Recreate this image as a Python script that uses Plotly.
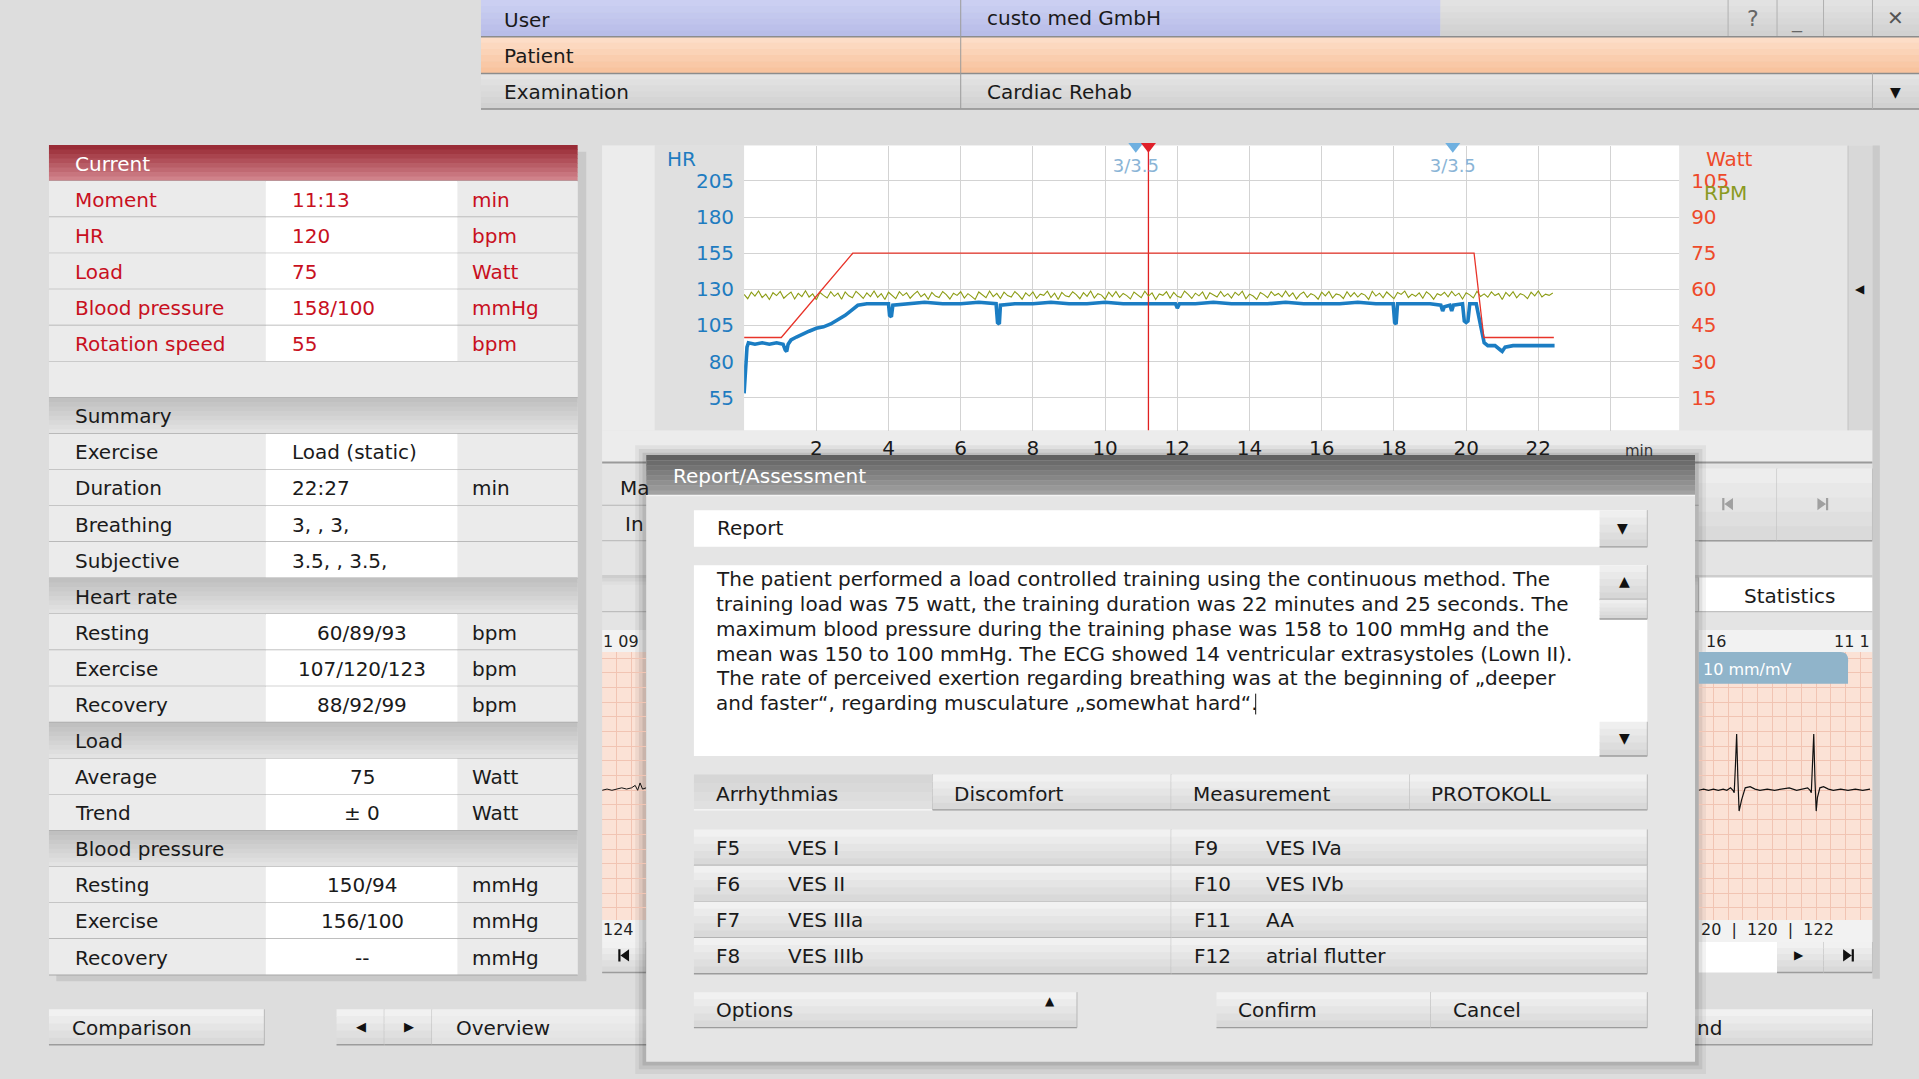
import plotly.graph_objects as go

# ---------------- data ----------------
hr_t = [0.00, 0.04, 0.08, 0.12, 0.30, 0.50, 0.70, 0.90, 1.08, 1.14,
        1.18, 1.22, 1.30, 1.45, 1.60, 1.80, 2.00, 2.20, 2.40, 2.60,
        2.80, 3.00, 3.15, 3.40, 3.70, 4.00, 4.03, 4.08, 4.12, 4.50,
        5.00, 5.50, 6.00, 6.50, 6.98, 7.02, 7.07, 7.10, 7.50, 8.00,
        8.50, 9.00, 9.50, 10.00, 10.50, 11.00, 11.50, 11.95, 12.00, 12.06,
        12.50, 13.00, 13.50, 14.00, 14.50, 15.00, 15.50, 16.00, 16.50, 17.00,
        17.50, 17.98, 18.02, 18.06, 18.10, 18.50, 19.00, 19.30, 19.35, 19.40,
        19.55, 19.60, 19.65, 19.90, 19.95, 20.00, 20.05, 20.10, 20.28, 20.40,
        20.50, 20.60, 20.80, 20.95, 21.00, 21.08, 21.30, 21.60, 22.00, 22.45]
hr_bpm = [58, 75, 90, 93, 92, 93, 92, 93, 92, 88,
          87, 92, 95, 97, 99, 101, 103, 104, 106, 109,
          112, 116, 119, 120, 120, 120, 112, 111, 119, 120,
          121, 120, 120, 121, 120, 107, 106, 119, 120, 120,
          121, 120, 120, 121, 120, 120, 120, 120, 117, 120,
          120, 121, 120, 120, 120, 121, 120, 120, 120, 121,
          120, 120, 107, 106, 120, 120, 120, 119, 115, 118,
          119, 115, 119, 120, 108, 107, 108, 120, 120, 105,
          93, 91, 91, 88, 87, 90, 91, 91, 91, 91]

load_t = [0.0, 1.03, 3.01, 20.22, 20.49, 22.43]
load_watt = [40, 40, 75, 75, 40, 40]

rpm_step = 0.1
rpm_vals = [57.9, 56.1, 58.8, 57.2, 59.3, 56.6, 58.0, 55.8, 58.6, 57.4, 59.1, 56.3, 57.7, 58.9, 56.0,
            58.3, 57.0, 59.4, 56.8, 58.1, 55.7, 58.7, 57.5, 56.4, 59.0, 57.1, 58.4, 55.9, 58.9, 57.3,
            56.5, 59.2, 57.8, 56.2, 58.5, 57.0, 59.3, 56.7, 58.2, 55.8, 58.8, 57.6, 56.1, 59.0, 57.4,
            58.6, 56.3, 57.9, 59.2, 56.9, 58.1, 55.9, 58.7, 57.2, 56.6, 59.1, 57.8, 56.0, 58.4, 57.5,
            59.0, 56.4, 58.2, 57.1, 55.8, 58.9, 57.6, 56.5, 59.3, 57.0, 58.3, 56.2, 58.8, 57.4, 56.8,
            59.1, 57.7, 55.9, 58.5, 57.2, 58.9, 56.3, 58.0, 57.5, 59.2, 56.6, 58.4, 55.8, 58.7, 57.3,
            56.9, 59.0, 57.8, 56.1, 58.6, 57.1, 59.3, 56.4, 58.2, 57.6, 55.9, 58.8, 57.0, 59.1, 56.7,
            58.3, 57.4, 56.0, 58.9, 57.7, 56.5, 59.2, 57.2, 58.5, 55.8, 58.1, 57.5, 59.0, 56.3, 58.7,
            57.1, 56.6, 59.3, 57.9, 56.2, 58.4, 57.3, 58.9, 55.9, 58.6, 57.6, 56.8, 59.1, 57.0, 58.2,
            56.4, 58.8, 57.5, 59.2, 56.1, 58.0, 57.2, 55.8, 58.7, 57.8, 56.5, 59.0, 57.4, 58.3, 56.9,
            59.3, 57.1, 58.5, 56.0, 57.9, 58.9, 56.7, 58.2, 57.5, 55.9, 58.8, 57.3, 59.1, 56.4, 58.1,
            57.7, 56.2, 59.0, 57.0, 58.6, 56.8, 58.3, 57.6, 55.8, 59.2, 57.2, 58.4, 56.5, 58.9, 57.4,
            56.1, 58.7, 57.9, 59.3, 56.6, 58.0, 57.1, 58.5, 56.3, 59.0, 57.8, 55.9, 58.2, 57.5, 58.8,
            56.9, 59.1, 57.3, 58.4, 56.0, 58.6, 57.7, 56.4, 59.2, 57.0, 58.1, 56.7, 58.9, 57.4, 58.3,
            55.8, 58.7, 57.2, 59.0, 56.5, 58.2, 57.6, 56.1, 58.8, 57.3, 59.3, 56.8, 58.0, 57.5, 58.5]
rpm_t = [i * rpm_step for i in range(len(rpm_vals))]

event_t = [10.85, 19.63]
event_text = ["3/3.5", "3/3.5"]
cursor_t = 11.2

hr_ticks = [55, 80, 105, 130, 155, 180, 205]
watt_ticks = [15, 30, 45, 60, 75, 90, 105]
min_ticks = [2, 4, 6, 8, 10, 12, 14, 16, 18, 20, 22, 24]
min_labels = ["2", "4", "6", "8", "10", "12", "14", "16", "18", "20", "22", ""]

ecg_t = [0, 4, 8, 12, 16, 20, 23, 26, 28, 29, 30, 31, 32, 33, 35, 38, 42, 46, 50, 56, 62,
         68, 74, 80, 86, 89, 91, 92, 93, 94, 95, 96, 97, 99, 102, 106, 110, 116, 122, 128, 134, 140]
ecg_v = [0, 1, 0, 1, 0, 1, 0, 2, 0, -2, 20, 46, 10, -17, -8, 2, 3, 1, 0, 1, 0,
         1, 2, 0, 1, 2, 0, -2, 22, 46, 8, -17, -6, 2, 3, 1, 0, 1, 0, 1, 0, 1]
ecg_left_t = [0, 4, 8, 12, 16, 20, 24, 27, 29, 31, 33, 36]
ecg_left_v = [0, 1, 0, 1, 2, 1, 2, 4, 0, 6, 1, 2]

current_labels = ["Moment", "HR", "Load", "Blood pressure", "Rotation speed"]
current_values = ["11:13", "120", "75", "158/100", "55"]
current_units = ["min", "bpm", "Watt", "mmHg", "bpm"]
summary_labels = ["Exercise", "Duration", "Breathing", "Subjective"]
summary_values = ["Load (static)", "22:27", "3, , 3,", "3.5, , 3.5,"]
summary_units = ["", "min", "", ""]
hr_labels = ["Resting", "Exercise", "Recovery"]
hr_values = ["60/89/93", "107/120/123", "88/92/99"]
hr_units = ["bpm", "bpm", "bpm"]
load_labels = ["Average", "Trend"]
load_values = ["75", "± 0"]
load_units = ["Watt", "Watt"]
bp_labels = ["Resting", "Exercise", "Recovery"]
bp_values = ["150/94", "156/100", "--"]
bp_units = ["mmHg", "mmHg", "mmHg"]

report_lines = [
    "The patient performed a load controlled training using the continuous method. The",
    "training load was 75 watt, the training duration was 22 minutes and 25 seconds. The",
    "maximum blood pressure during the training phase was 158 to 100 mmHg and the",
    "mean was 150 to 100 mmHg. The ECG showed 14 ventricular extrasystoles (Lown II).",
    "The rate of perceived exertion regarding breathing was at the beginning of „deeper",
    "and faster“, regarding musculature „somewhat hard“.",
]
tab_names = ["Arrhythmias", "Discomfort", "Measurement", "PROTOKOLL"]
fkeys_left = ["F5", "F6", "F7", "F8"]
fnames_left = ["VES I", "VES II", "VES IIIa", "VES IIIb"]
fkeys_right = ["F9", "F10", "F11", "F12"]
fnames_right = ["VES IVa", "VES IVb", "AA", "atrial flutter"]

# ---------------- helpers (layout units of the 1568x882 screen) ----------------
W, H = 1919, 1079
RW, RH = 1568.0, 882.0
FONT = "DejaVu Sans"
FS = 20

shapes = []
annots = []


def px(x):
    return x / RW


def py(y):
    return 1 - y / RH


def box(x0, y0, x1, y1, fill, layer="below"):
    shapes.append(dict(type="rect", xref="paper", yref="paper", x0=px(x0), x1=px(x1),
                       y0=py(y1), y1=py(y0), fillcolor=fill, line=dict(width=0), layer=layer))


def hline(x0, x1, y, color, w=1.2):
    shapes.append(dict(type="line", xref="paper", yref="paper", x0=px(x0), x1=px(x1),
                       y0=py(y), y1=py(y), line=dict(color=color, width=w), layer="below"))


def vline(x, y0, y1, color, w=1.2):
    shapes.append(dict(type="line", xref="paper", yref="paper", x0=px(x), x1=px(x),
                       y0=py(y0), y1=py(y1), line=dict(color=color, width=w), layer="below"))


def mix(c0, c1, t):
    a = [int(c0[i:i + 2], 16) for i in (1, 3, 5)]
    b = [int(c1[i:i + 2], 16) for i in (1, 3, 5)]
    return "#" + "".join("%02x" % round(a[k] + (b[k] - a[k]) * t) for k in range(3))


def grad(x0, y0, x1, y1, c0, c1, n=6):
    for k in range(n):
        ya = y0 + (y1 - y0) * k / n
        yb = y0 + (y1 - y0) * (k + 1) / n
        box(x0, ya, x1, min(yb + 0.4, y1), mix(c0, c1, (k + 0.5) / n))


def text(x, y, s, size=FS, color="#1a1a1a", anchor="left"):
    annots.append(dict(xref="paper", yref="paper", x=px(x), y=py(y), text=s, showarrow=False,
                       xanchor=anchor, yanchor="middle", font=dict(family=FONT, size=size, color=color)))


def button(x0, y0, x1, y1, c0="#f4f4f4", c1="#d6d6d6"):
    grad(x0, y0, x1, y1, c0, c1, 5)
    hline(x0, x1, y1, "#9c9c9c", 1.4)
    vline(x1, y0, y1, "#b8b8b8", 1)


def skip_icon(xc, yc, d, color, s=5.0):
    # d = -1: bar + left triangle, d = +1: right triangle + bar
    tip = xc + d * s * 0.6
    back = xc - d * s * 0.8
    bar0, bar1 = tip, tip + d * 1.8
    path = "M %f,%f L %f,%f L %f,%f Z M %f,%f L %f,%f L %f,%f L %f,%f Z" % (
        px(tip), py(yc), px(back), py(yc - s), px(back), py(yc + s),
        px(bar0), py(yc - s), px(bar1), py(yc - s), px(bar1), py(yc + s), px(bar0), py(yc + s))
    shapes.append(dict(type="path", xref="paper", yref="paper", path=path, fillcolor=color,
                       line=dict(width=0), layer="below"))


# ---------------- top header ----------------
grad(393, 0, 785, 30, "#cdd1f3", "#b6bbe7")
grad(785, 0, 1177, 30, "#cdd1f3", "#b6bbe7")
grad(1177, 0, 1568, 30, "#e4e4e4", "#cfcfcf")
for xs in (1412, 1452, 1490, 1530):
    vline(xs, 0, 30, "#b0b0b0", 1)
grad(393, 30, 1568, 60, "#fde0cb", "#f8c09a")
grad(393, 60, 1568, 89, "#e6e6e6", "#cfcfcf")
for yy in (30, 60, 89):
    hline(393, 1568, yy, "#8c8c8c", 1.5)
vline(785, 0, 89, "#9a9a9a", 1)
vline(1530, 60, 89, "#b0b0b0", 1)
text(410, 16, "User")
text(805, 15, "custo med GmbH")
text(410, 46, "Patient")
text(410, 75, "Examination")
text(805, 75, "Cardiac Rehab")
text(1432, 15, "?", 22, "#666", "center")
text(1468, 17, "_", 20, "#666", "center")
text(1549, 15, "✕", 20, "#555", "center")
text(1549, 75, "▼", 14, "#111", "center")

# ---------------- left summary panel ----------------
box(472, 124, 479, 801, "#c9c9c9")
box(46, 797, 479, 802, "#c9c9c9")

rows = [("red", "Current")]
rows += [("row", l, v, u, "left", "#c8101e") for l, v, u in zip(current_labels, current_values, current_units)]
rows += [("blank",), ("head", "Summary")]
rows += [("row", l, v, u, "left", "#1a1a1a") for l, v, u in zip(summary_labels, summary_values, summary_units)]
rows += [("head", "Heart rate")]
rows += [("row", l, v, u, "center", "#1a1a1a") for l, v, u in zip(hr_labels, hr_values, hr_units)]
rows += [("head", "Load")]
rows += [("row", l, v, u, "center", "#1a1a1a") for l, v, u in zip(load_labels, load_values, load_units)]
rows += [("head", "Blood pressure")]
rows += [("row", l, v, u, "center", "#1a1a1a") for l, v, u in zip(bp_labels, bp_values, bp_units)]

RH0, RSTEP = 118.5, 29.5
for i, r in enumerate(rows):
    y0 = RH0 + i * RSTEP
    y1 = y0 + RSTEP
    yc = (y0 + y1) / 2 + 0.5
    if r[0] == "red":
        grad(40, y0, 472, y1, "#952530", "#d48890", 8)
        text(60, yc, r[1], FS, "#ffffff")
    elif r[0] == "head":
        grad(40, y0, 472, y1, "#bdbdbd", "#e6e6e6", 8)
        text(60, yc, r[1])
    elif r[0] == "blank":
        box(40, y0, 472, y1, "#ebebeb")
    else:
        box(40, y0, 217, y1, "#ebebeb")
        box(217, y0, 374, y1, "#ffffff")
        box(374, y0, 472, y1, "#ebebeb")
        text(60, yc, r[1], FS, r[5])
        if r[4] == "left":
            text(237, yc, r[2], FS, r[5])
        else:
            text(296, yc, r[2], FS, r[5], "center")
        text(384, yc, r[3], FS, r[5])
    hline(40, 472, y1, "#a8a8a8", 1.2)

# bottom buttons
button(40, 825, 216, 854)
text(57, 840, "Comparison")
button(275, 825, 314, 854)
button(314, 825, 353, 854)
text(295, 839, "◀", 13, "#111", "center")
text(334, 839, "▶", 13, "#111", "center")
button(353, 825, 540, 854, "#f1f1f1", "#e0e0e0")
text(371, 840, "Overview")
button(1385, 825, 1530, 854)
text(1385, 840, "nd")

# ---------------- chart panel ----------------
box(492, 119, 1530, 380, "#e6e6e6")
box(492, 119, 535, 352, "#ececec")
box(535, 119, 608, 352, "#e0e0e0")
box(608, 119, 1372, 352, "#ffffff")
box(1510, 119, 1530, 352, "#d8d8d8")
vline(1510, 119, 352, "#c4c4c4", 1)
text(1520, 236, "◀", 12, "#111", "center")
box(492, 352, 1530, 378, "#ececec")
hline(492, 1530, 378, "#9a9a9a", 2)

# rows under the chart
box(492, 380, 1530, 515, "#e4e4e4")
hline(492, 1530, 413, "#b5b5b5", 1)
hline(492, 1530, 442, "#b5b5b5", 1)
text(505, 399, "Ma")
text(509, 428, "In")
button(1388, 383, 1452, 442, "#efefef", "#d8d8d8")
button(1452, 383, 1530, 442, "#efefef", "#d8d8d8")
skip_icon(1412, 412, -1, "#a0a0a0", 5)
skip_icon(1489, 412, 1, "#a0a0a0", 5)
grad(492, 470, 1530, 478, "#c8c8c8", "#e4e4e4", 3)
box(1388, 472, 1530, 500, "#ffffff")
vline(1388, 472, 500, "#b5b5b5", 1)
hline(492, 1530, 500, "#b5b5b5", 1)
text(1462, 487, "Statistics", FS, "#1a1a1a", "center")

# ECG strips
box(492, 515, 528, 533, "#f2f2f2")
box(1388, 515, 1530, 533, "#f2f2f2")
box(492, 533, 528, 752, "#fbe2d6")
box(1388, 533, 1530, 752, "#fbe2d6")
box(492, 752, 528, 770, "#f2f2f2")
box(1388, 752, 1530, 770, "#f2f2f2")
text(491, 524, "1 09", 16, "#222")
text(1392, 524, "16", 16, "#222")
text(1497, 524, "11 1", 16, "#222")
text(491, 760, "124", 16, "#222")
text(1388, 760, "20  |  120  |  122", 16, "#222")
button(492, 770, 528, 795)
skip_icon(510, 781, -1, "#111", 5)
box(1388, 770, 1452, 795, "#ffffff")
button(1452, 770, 1490, 795)
button(1490, 770, 1530, 795)
text(1470, 781, "▶", 12, "#111", "center")
skip_icon(1510, 781, 1, "#111", 5)
shapes.append(dict(type="path", xref="paper", yref="paper", layer="above",
                   path="M %f,%f L %f,%f Q %f,%f %f,%f L %f,%f L %f,%f Z" % (
                       px(1388), py(533), px(1504), py(533), px(1511), py(533), px(1510), py(542),
                       px(1510), py(559), px(1388), py(559)),
                   fillcolor="#90b4ca", line=dict(width=0)))
text(1390, 547, "10 mm/mV", 16, "#ffffff")
box(1530, 119, 1536, 800, "#cacaca")

# ---------------- dialog ----------------
box(519, 364, 1394, 878, "rgba(0,0,0,0.05)")
box(522, 367, 1391, 874, "rgba(0,0,0,0.07)")
box(525, 370, 1388, 871, "rgba(0,0,0,0.09)")
box(528, 372, 1385, 868, "#e5e5e5")
grad(528, 372, 1385, 405, "#5e5e5e", "#a6a6a6", 8)
hline(528, 1385, 405, "#f4f4f4", 1.5)
text(548, 389, "Report/Assessment", FS, "#ffffff")

box(567, 417, 1346, 447, "#ffffff")
button(1307, 417, 1346, 447, "#f2f2f2", "#d4d4d4")
text(584, 432, "Report")
text(1326, 432, "▼", 14, "#111", "center")

box(567, 462, 1346, 618, "#ffffff")
button(1307, 462, 1346, 490, "#f2f2f2", "#d4d4d4")
button(1307, 490, 1346, 506, "#f2f2f2", "#d4d4d4")
button(1307, 590, 1346, 618, "#f2f2f2", "#d4d4d4")
text(1327, 475, "▲", 14, "#111", "center")
text(1327, 603, "▼", 14, "#111", "center")
for k, line in enumerate(report_lines):
    text(583, 473 + k * 20.4, line, FS)
vline(1026, 567, 584, "#111", 1)

tab_x = [567, 762, 957, 1152, 1346]
for k, name in enumerate(tab_names):
    if k == 0:
        grad(tab_x[k], 633, tab_x[k + 1], 662, "#d4d4d4", "#e2e2e2", 4)
        hline(tab_x[k], tab_x[k + 1], 662, "#f8f8f8", 1.4)
        vline(tab_x[k + 1], 633, 662, "#b8b8b8", 1)
    else:
        button(tab_x[k], 633, tab_x[k + 1], 662)
    text(tab_x[k] + 16, 649, name)

f_rows = [678, 707.5, 737, 766.5, 796]
for k in range(4):
    button(567, f_rows[k], 957, f_rows[k + 1])
    button(957, f_rows[k], 1346, f_rows[k + 1])
    yc = (f_rows[k] + f_rows[k + 1]) / 2 + 0.5
    text(583, yc, fkeys_left[k])
    text(642, yc, fnames_left[k])
    text(974, yc, fkeys_right[k])
    text(1033, yc, fnames_right[k])

button(567, 811, 880, 840)
text(583, 826, "Options")
text(858, 818, "▲", 12, "#111", "center")
button(994, 811, 1169, 840)
button(1169, 811, 1346, 840)
text(1010, 826, "Confirm")
text(1186, 826, "Cancel")

# chart axis captions
text(543, 130, "HR", FS, "#1f7cc0")
text(1392, 130, "Watt", FS, "#ee4a2a")
text(1391, 158, "RPM", FS, "#8a9a22")
text(1326, 369, "min", 15, "#333")

# ---------------- figure ----------------
HR_RANGE = [32.2, 229.5]
WATT_RANGE = [0.6 * (HR_RANGE[0] - 55) + 15, 0.6 * (HR_RANGE[1] - 55) + 15]

fig = go.Figure()
fig.add_trace(go.Scatter(x=rpm_t, y=rpm_vals, yaxis="y2", mode="lines",
                         line=dict(color="#8c9c14", width=1.1), hoverinfo="skip"))
fig.add_trace(go.Scatter(x=load_t, y=load_watt, yaxis="y2", mode="lines",
                         line=dict(color="#e8342a", width=1.3), hoverinfo="skip"))
fig.add_trace(go.Scatter(x=hr_t, y=hr_bpm, mode="lines",
                         line=dict(color="#1b7dc3", width=3.6), hoverinfo="skip"))
fig.add_trace(go.Scatter(x=[cursor_t, cursor_t], y=HR_RANGE, mode="lines",
                         line=dict(color="#e02020", width=1.3), hoverinfo="skip"))
fig.add_trace(go.Scatter(x=event_t, y=[229] * len(event_t), mode="markers", cliponaxis=False,
                         marker=dict(symbol="triangle-down", size=13, color="#6fb0e0"), hoverinfo="skip"))
fig.add_trace(go.Scatter(x=[cursor_t], y=[229], mode="markers", cliponaxis=False,
                         marker=dict(symbol="triangle-down", size=13, color="#e0202a"), hoverinfo="skip"))
fig.add_trace(go.Scatter(x=event_t, y=[214] * len(event_t), mode="text", text=event_text,
                         textfont=dict(family=FONT, size=18, color="#8ab4d6"), hoverinfo="skip"))
fig.add_trace(go.Scatter(x=ecg_t, y=ecg_v, xaxis="x3", yaxis="y3", mode="lines",
                         line=dict(color="#111", width=1.2), hoverinfo="skip"))
fig.add_trace(go.Scatter(x=ecg_left_t, y=ecg_left_v, xaxis="x4", yaxis="y4", mode="lines",
                         line=dict(color="#111", width=1.0), hoverinfo="skip"))

grid = "#d3d3d3"
ecg_grid = "#f1c4b3"
fig.update_layout(
    width=W, height=H, margin=dict(l=0, r=0, t=0, b=0),
    paper_bgcolor="#dddddd", plot_bgcolor="rgba(0,0,0,0)",
    showlegend=False, font=dict(family=FONT, size=FS, color="#1a1a1a"),
    xaxis=dict(domain=[px(608), px(1372)], range=[0, 25.9], tickvals=min_ticks, ticktext=min_labels,
               showgrid=True, gridcolor=grid, zeroline=False, showline=False, ticks="",
               tickfont=dict(size=FS, color="#1a1a1a"), ticklabelstandoff=3, fixedrange=True),
    yaxis=dict(domain=[py(352), py(119)], range=HR_RANGE, tickvals=hr_ticks,
               showgrid=True, gridcolor=grid, zeroline=False, showline=False, ticks="",
               tickfont=dict(size=FS, color="#1f7cc0"), ticklabelstandoff=9, fixedrange=True),
    yaxis2=dict(overlaying="y", side="right", range=WATT_RANGE, tickvals=watt_ticks,
                showgrid=False, zeroline=False, showline=False, ticks="",
                tickfont=dict(size=FS, color="#ee4a2a"), ticklabelstandoff=11, fixedrange=True),
    xaxis3=dict(domain=[px(1388), px(1530)], range=[0, 142], anchor="y3", dtick=12,
                showgrid=True, gridcolor=ecg_grid, zeroline=False, showticklabels=False, ticks=""),
    yaxis3=dict(domain=[py(752), py(533)], range=[-106, 113], anchor="x3", dtick=12,
                showgrid=True, gridcolor=ecg_grid, zeroline=False, showticklabels=False, ticks=""),
    xaxis4=dict(domain=[px(492), px(528)], range=[0, 36], anchor="y4", dtick=12,
                showgrid=True, gridcolor=ecg_grid, zeroline=False, showticklabels=False, ticks=""),
    yaxis4=dict(domain=[py(752), py(533)], range=[-106, 113], anchor="x4", dtick=12,
                showgrid=True, gridcolor=ecg_grid, zeroline=False, showticklabels=False, ticks=""),
    shapes=shapes, annotations=annots,
)

fig.write_html("out.html", config={"displayModeBar": False},
               post_script="document.body.style.margin='0';document.body.style.overflow='hidden';")
